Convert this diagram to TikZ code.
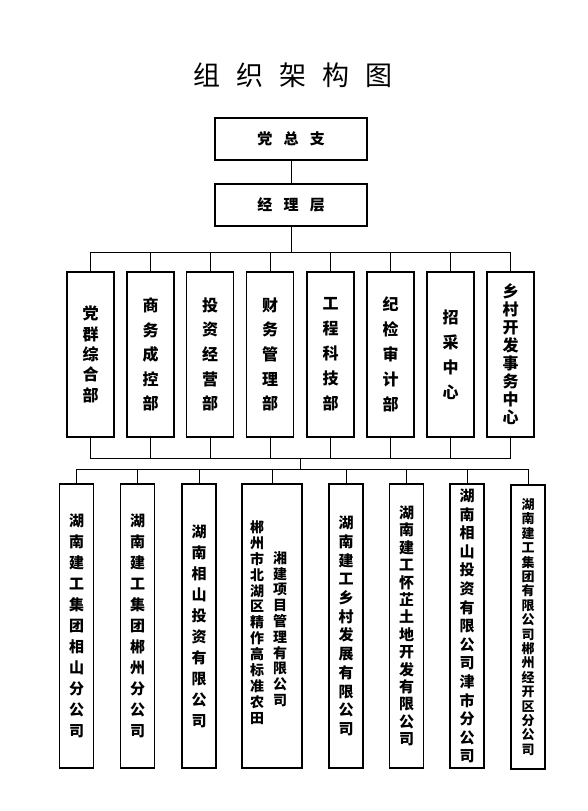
\documentclass[tikz,border=0pt]{standalone}
\usepackage{fontspec}
\setmainfont{Noto Sans CJK SC}
\usetikzlibrary{positioning}
\XeTeXlinebreaklocale "zh"
\XeTeXlinebreakskip=0pt plus 1pt

\begin{document}
\begin{tikzpicture}[
    x=1pt, y=-1pt,
    kuang/.style={draw, line width=1.8pt, inner sep=0pt, align=center},
    ding/.style={kuang, minimum width=152pt, minimum height=42pt,
                 font=\fontsize{15}{18}\selectfont\bfseries},
    bumen/.style={kuang, minimum width=47pt, minimum height=165pt,
                  text width=18pt, font=\fontsize{16}{#1}\selectfont\bfseries},
    gongsi/.style={kuang, minimum width=34pt, minimum height=284pt,
                   text width=18pt, font=\fontsize{15}{#1}\selectfont\bfseries},
    shuzi/.style={inner sep=0pt, align=center, text width=16pt,
                  font=\fontsize{14}{#1}\selectfont\bfseries},
    xian/.style={line width=0.8pt}
  ]
    \useasboundingbox (0,0) rectangle (588,811);
    \node[font=\fontsize{27}{30}\selectfont] (biaoti) at (293,75)
      {组\hspace{0.6em}织\hspace{0.6em}架\hspace{0.6em}构\hspace{0.6em}图};
    % 上层
    \node[ding] (dang)   at (291,139) {党\hspace{0.75em}总\hspace{0.75em}支};
    \node[ding] (jingli) at (291,205) {经\hspace{0.75em}理\hspace{0.75em}层};
    % 部门
    \node[bumen=20.3] (b1) at (90.5,354.5)  {党群综合部};
    \node[bumen=24.6] (b2) at (150.5,354.5) {商务成控部};
    \node[bumen=24.6] (b3) at (210,354.5)   {投资经营部};
    \node[bumen=24.6] (b4) at (270,354.5)   {财务管理部};
    \node[bumen=25]   (b5) at (330.5,354.5) {工程科技部};
    \node[bumen=25]   (b6) at (390.5,354.5) {纪检审计部};
    \node[bumen=25]   (b7) at (450.5,354.5) {招采中心};
    \node[bumen=18]   (b8) at (510.5,354.5) {乡村开发事务中心};
    % 公司
    \node[gongsi=21]   (c1) at (76.5,626)  {湖南建工集团相山分公司};
    \node[gongsi=21]   (c2) at (137.5,626) {湖南建工集团郴州分公司};
    \node[gongsi=21]   (c3) at (199,626)   {湖南相山投资有限公司};
    \node[kuang, minimum width=60pt, minimum height=284pt] (c4) at (272,626) {};
    \node[shuzi=15.9] (c4a) at (257,622.5) {郴州市北湖区精作高标准农田};
    \node[shuzi=15.8] (c4b) at (280,629)   {湘建项目管理有限公司};
    \node[gongsi=18.7] (c5) at (346,626)   {湖南建工乡村发展有限公司};
    \node[gongsi=17.4] (c6) at (406.5,626) {湖南建工怀芷土地开发有限公司};
    \node[gongsi=18.6] (c7) at (467,626)   {湖南相山投资有限公司津市分公司};
    \node[gongsi, font=\fontsize{13}{14.4}\selectfont\bfseries] (c8) at (528,627)
      {湖南建工集团有限公司郴州经开区分公司};
    % 连线
    \draw[xian] (dang) -- (jingli);
    \draw[xian] (jingli.south) -- ++(0,25) coordinate (zong1);
    \coordinate (zong2) at (300,458);
    \coordinate (zong3) at (300,469);
    \foreach \i in {1,...,8} {
      \draw[xian] (b\i.north) |- (zong1);
      \draw[xian] (b\i.south) |- (zong2);
      \draw[xian] (c\i.north) |- (zong3);
    }
    \draw[xian] (zong2) -- (zong3);
  \end{tikzpicture}
\end{document}
